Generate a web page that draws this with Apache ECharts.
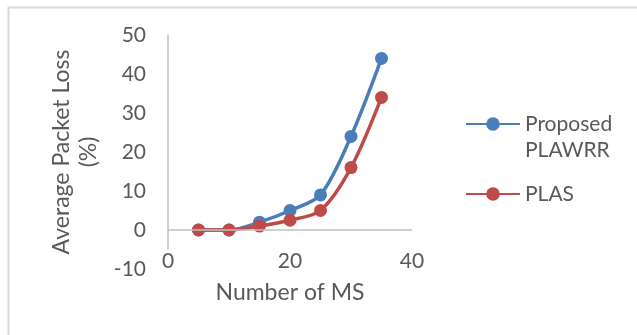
<!DOCTYPE html>
<html>
<head>
<meta charset="utf-8">
<script src="https://cdn.jsdelivr.net/npm/echarts@6/dist/echarts.min.js"></script>
<style>
html,body{margin:0;padding:0;background:#fff;}
#c{width:637px;height:335px;}
</style>
</head>
<body>
<div id="c"></div>
<script>
const msCounts = [5, 10, 15, 20, 25, 30, 35];
const proposedLoss = [0, 0, 2, 5, 9, 24, 44];
const plasLoss = [0, 0, 1, 2.5, 5, 16, 34];
const seriesNames = ['Proposed PLAWRR', 'PLAS'];
const xTitle = 'Number of MS';
const yTitle = 'Average Packet Loss\n(%)';

const textColor = '#595959';
const fontFam = 'Lato, "Open Sans", sans-serif';
const pair = (xs, ys) => xs.map((x, i) => [x, ys[i]]);

const chart = echarts.init(document.getElementById('c'), null, {renderer: 'canvas'});
chart.setOption({
  animation: false,
  backgroundColor: '#fff',
  graphic: [{
    type: 'rect', left: 6, top: 5, shape: {width: 700, height: 400},
    style: {fill: 'none', stroke: '#d9d9d9', lineWidth: 2}, silent: true
  }],
  grid: {left: 168, right: 225, top: 35, bottom: 66, containLabel: false},
  xAxis: {
    type: 'value', min: 0, max: 40, interval: 20,
    name: xTitle, nameLocation: 'middle', nameGap: 12,
    nameTextStyle: {color: textColor, fontSize: 23, fontFamily: fontFam},
    axisLine: {show: false, onZero: false}, axisTick: {show: false},
    splitLine: {show: false},
    axisLabel: {color: textColor, fontSize: 21, fontFamily: fontFam, margin: -18}
  },
  yAxis: {
    type: 'value', min: -10, max: 50, interval: 10,
    name: yTitle, nameLocation: 'middle', nameGap: 66, nameRotate: 90,
    nameTextStyle: {color: textColor, fontSize: 23, fontFamily: fontFam, lineHeight: 27},
    axisLine: {show: false}, axisTick: {show: false}, splitLine: {show: false},
    axisLabel: {color: textColor, fontSize: 21, fontFamily: fontFam, margin: 22}
  },
  legend: [{
    data: [seriesNames[0]], orient: 'vertical', left: 465, top: 85, padding: 0,
    itemWidth: 54, itemHeight: 17,
    formatter: () => ' \nProposed\nPLAWRR',
    textStyle: {color: textColor, fontSize: 21, fontFamily: fontFam, lineHeight: 26}
  }, {
    data: [seriesNames[1]], orient: 'vertical', left: 465, top: 181, padding: 0,
    itemWidth: 54, itemHeight: 17,
    textStyle: {color: textColor, fontSize: 21, fontFamily: fontFam, lineHeight: 26}
  }],
  series: [{
    name: seriesNames[0], type: 'line', smooth: 0.3,
    data: pair(msCounts, proposedLoss),
    symbol: 'circle', symbolSize: 13,
    itemStyle: {color: '#4a7ebb'}, lineStyle: {color: '#4a7ebb', width: 3.5},
    z: 3,
    markLine: {
      silent: true, symbol: 'none', animation: false,
      label: {show: false},
      lineStyle: {color: '#bfbfbf', type: 'solid', width: 1.5},
      data: [
        [{coord: [0, 0]}, {coord: [40, 0]}],
        [{coord: [0, 50]}, {coord: [0, -5]}]
      ]
    }
  }, {
    name: seriesNames[1], type: 'line', smooth: 0.3,
    data: pair(msCounts, plasLoss),
    symbol: 'circle', symbolSize: 13,
    itemStyle: {color: '#be4b48'}, lineStyle: {color: '#be4b48', width: 3.5},
    z: 4
  }]
});
</script>
</body>
</html>
